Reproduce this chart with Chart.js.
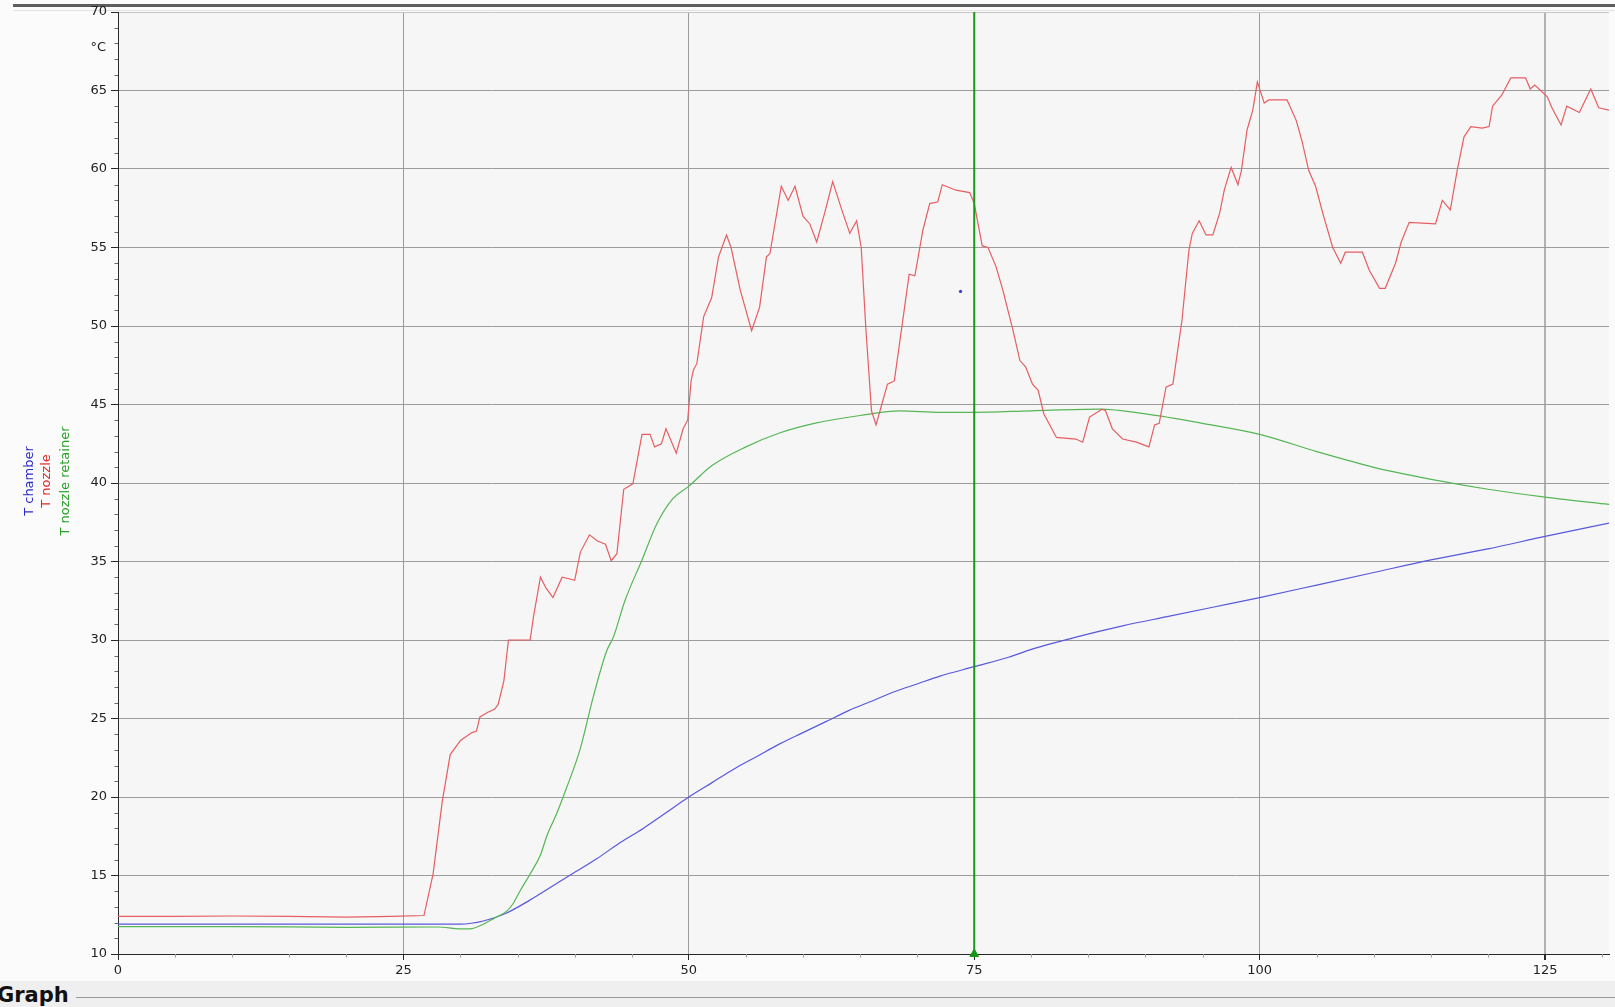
<!DOCTYPE html>
<html>
<head>
<meta charset="utf-8">
<title>Graph</title>
<script src="https://cdn.jsdelivr.net/npm/chart.js@4"></script>
<style>
  html, body { margin: 0; padding: 0; background: #fbfbfb; overflow: hidden; }
  #wrap { position: relative; width: 1615px; height: 1007px; }
  #topbar { position: absolute; left: 13px; top: 4px; width: 1602px; height: 3px; background: #5e5e5e; }
  #topline { position: absolute; left: 13px; top: 10px; width: 1602px; height: 1px; background: #e2e2e2; }
  #chartBox { position: absolute; left: 0; top: 0; width: 1615px; height: 985px; }
  .serieslabel { position: absolute; top: 481px; white-space: nowrap; font: 13px "DejaVu Sans", sans-serif;
                 transform: translate(-50%, -50%) rotate(-90deg); }
  #unit { position: absolute; top: 39px; right: calc(1615px - 106px); font: 13px "DejaVu Sans", sans-serif; color: #222; }
  #band { position: absolute; left: 0; top: 981px; width: 1615px; height: 26px; background: #efefef; }
  #bandline { position: absolute; left: 76px; top: 997px; width: 1539px; height: 1px; background: #9a9a9a; }
  #bandtitle { position: absolute; left: -3px; top: 983px; font: bold 21px "DejaVu Sans", sans-serif; color: #111; }
</style>
</head>
<body>
<div id="wrap">
  <div id="topbar"></div>
  <div id="topline"></div>
  <div id="chartBox"><canvas id="c" width="1615" height="985"></canvas></div>
  <div id="unit">°C</div>
  <div class="serieslabel" style="left:28px;color:#2b2bc8;">T chamber</div>
  <div class="serieslabel" style="left:45px;color:#e02626;">T nozzle</div>
  <div class="serieslabel" style="left:64px;color:#26a026;">T nozzle retainer</div>
  <div id="band"></div>
  <div id="bandline"></div>
  <div id="bandtitle">Graph</div>
</div>
<script>
// Time axis (x) and temperature readings (°C) for each sensor
const nozzleX = [0, 5, 10, 15, 20, 24, 26.8, 27.6, 28.4, 29.1, 30.0, 31.0, 31.4, 31.7, 32.4, 33.0, 33.3, 33.8, 34.2, 36.1,
  36.4, 37.0, 37.5, 38.1, 38.9, 39.5, 40.0, 40.5, 41.3, 42.0, 42.7, 43.2, 43.7, 44.3, 45.1, 45.9, 46.6, 47.0, 47.6, 48.0,
  48.9, 49.5, 49.9, 50.2, 50.4, 50.7, 51.3, 52.0, 52.6, 53.3, 53.7, 54.5, 55.5, 56.2, 56.8, 57.1, 58.1, 58.7, 59.3, 60.0,
  60.6, 61.2, 61.9, 62.6, 63.4, 64.1, 64.7, 65.1, 65.5, 66.0, 66.4, 66.9, 67.4, 68.0, 68.9, 69.3, 69.8, 70.5, 71.1, 71.8,
  72.2, 73.4, 74.6, 75.0, 75.7, 76.2, 76.9, 77.5, 78.4, 79.0, 79.5, 80.1, 80.6, 81.1, 82.2, 83.9, 84.5, 85.1, 86.2, 86.5,
  87.1, 88.0, 89.2, 90.3, 90.8, 91.2, 91.8, 92.4, 93.2, 93.8, 94.1, 94.7, 95.3, 95.9, 96.5, 96.9, 97.5, 98.1, 98.4, 98.9,
  99.4, 99.8, 100.4, 100.8, 102.4, 103.2, 103.7, 104.3, 104.9, 105.6, 106.4, 107.1, 107.5, 109.0, 109.6, 110.5, 111.0, 111.9, 112.4, 113.1,
  115.4, 116.0, 116.7, 117.3, 117.9, 118.5, 119.5, 120.1, 120.4, 121.2, 122.0, 123.3, 123.7, 124.1, 125.2, 125.6, 126.4, 126.9, 128.0, 129.0,
  129.7, 130.6, 131.0];
const nozzleT = [12.4, 12.4, 12.42, 12.4, 12.35, 12.4, 12.45, 15.1, 19.7, 22.7, 23.6, 24.1, 24.2, 25.1, 25.4, 25.6, 25.9, 27.4, 30.0, 30.0,
  31.5, 34.0, 33.3, 32.7, 34.0, 33.9, 33.8, 35.6, 36.7, 36.3, 36.1, 35.05, 35.5, 39.6, 39.95, 43.1, 43.1, 42.3, 42.5, 43.45,
  41.9, 43.45, 44.0, 46.5, 47.2, 47.6, 50.6, 51.8, 54.4, 55.8, 55.0, 52.3, 49.7, 51.2, 54.4, 54.6, 58.9, 58.0, 58.9, 57.0,
  56.5, 55.35, 57.2, 59.2, 57.4, 55.9, 56.7, 55.0, 49.9, 44.6, 43.7, 45.0, 46.3, 46.5, 51.2, 53.3, 53.2, 56.1, 57.8, 57.9,
  59.0, 58.65, 58.5, 57.8, 55.1, 55.0, 53.8, 52.3, 49.7, 47.8, 47.4, 46.3, 45.9, 44.4, 42.9, 42.8, 42.6, 44.2, 44.7, 44.6,
  43.45, 42.8, 42.6, 42.3, 43.7, 43.8, 46.1, 46.3, 50.4, 54.8, 55.9, 56.7, 55.8, 55.8, 57.2, 58.65, 60.1, 59.0, 59.9, 62.5,
  63.75, 65.55, 64.2, 64.4, 64.4, 63.1, 61.8, 59.9, 58.9, 57.0, 55.0, 54.0, 54.7, 54.7, 53.55, 52.4, 52.4, 54.0, 55.35, 56.6,
  56.5, 58.0, 57.4, 59.9, 62.05, 62.7, 62.6, 62.7, 64.0, 64.7, 65.8, 65.8, 65.1, 65.35, 64.6, 63.9, 62.8, 64.0, 63.6, 65.1,
  63.9, 63.75, 63.1];

const retainerX = [0, 10, 20, 28, 30, 31, 32, 33, 34, 34.6, 35.2, 36.1, 37.0, 37.6, 38.4, 39.3, 40.5, 41.6, 42.8, 43.4,
  44.4, 45.9, 47.2, 48.6, 50, 52, 55, 58, 61, 65, 68.5, 72, 75, 80, 86, 90, 95, 100, 105, 110,
  116, 120, 125, 131];
const retainerT = [11.75, 11.75, 11.7, 11.72, 11.6, 11.62, 11.9, 12.3, 12.7, 13.2, 14.0, 15.1, 16.3, 17.6, 18.9, 20.6, 23.1, 26.3, 29.3, 30.2,
  32.5, 35.1, 37.4, 39.0, 39.8, 41.1, 42.3, 43.2, 43.8, 44.3, 44.6, 44.5, 44.5, 44.6, 44.7, 44.4, 43.8, 43.1, 42.0, 41.0,
  40.1, 39.6, 39.1, 38.6];

const chamberX = [0, 30, 32, 34, 36, 38, 40, 42, 44, 46, 48, 50, 52, 54, 56, 58, 60, 62, 64, 66,
  68, 70, 72, 75, 78, 80, 84, 88, 92, 96, 100, 105, 110, 115, 120, 125, 131];
const chamberT = [11.9, 11.9, 12.1, 12.6, 13.4, 14.3, 15.2, 16.1, 17.1, 18.0, 19.0, 20.0, 20.9, 21.8, 22.6, 23.4, 24.1, 24.8, 25.5, 26.1,
  26.7, 27.2, 27.7, 28.3, 28.9, 29.4, 30.2, 30.9, 31.5, 32.1, 32.7, 33.5, 34.3, 35.1, 35.8, 36.6, 37.5];

// Cursor position and the single probe marker
const cursorX = [75, 75];
const cursorT = [10, 70];
const probeX = [73.8];
const probeT = [52.2];

// Axis ranges and tick spacing
const xRange = [0, 130.6];
const yRange = [10, 70];
const xMajorStep = 25, xMinorStep = 5;
const yMajorStep = 5, yMinorStep = 1;

const toPoints = (xs, ys) => xs.map((x, i) => ({ x: x, y: ys[i] }));

const plotBackground = {
  id: 'plotBackground',
  beforeDraw(chart) {
    const { ctx, chartArea: a } = chart;
    ctx.save();
    ctx.fillStyle = '#f6f6f6';
    ctx.fillRect(a.left, a.top, a.right - a.left, a.bottom - a.top);
    ctx.restore();
  }
};

const minorTicks = {
  id: 'minorTicks',
  afterDraw(chart) {
    const { ctx, chartArea: a, scales } = chart;
    ctx.save();
    ctx.lineWidth = 1;
    ctx.strokeStyle = '#6a6a6a';
    for (let v = yRange[0] + yMinorStep; v < yRange[1]; v += yMinorStep) {
      if (v % yMajorStep === 0) continue;
      const py = Math.round(scales.y.getPixelForValue(v)) + 0.5;
      ctx.beginPath(); ctx.moveTo(a.left - 3.5, py); ctx.lineTo(a.left, py); ctx.stroke();
    }
    ctx.strokeStyle = '#9a9a9a';
    for (let v = xRange[0] + xMinorStep; v < xRange[1]; v += xMinorStep) {
      if (v % xMajorStep === 0) continue;
      const px = Math.round(scales.x.getPixelForValue(v)) + 0.5;
      ctx.beginPath(); ctx.moveTo(px, a.bottom); ctx.lineTo(px, a.bottom + 3.5); ctx.stroke();
    }
    ctx.restore();
  }
};

const tickFont = { family: '"DejaVu Sans", sans-serif', size: 13 };

new Chart(document.getElementById('c'), {
  type: 'scatter',
  data: {
    datasets: [
      { label: 'cursor', data: toPoints(cursorX, cursorT), showLine: true, borderColor: '#169a16', borderWidth: 2,
        pointRadius: 0 },
      { label: 'cursor marker', data: toPoints([cursorX[0]], [yRange[0]]), pointStyle: 'triangle', pointRadius: 5,
        backgroundColor: '#169a16', borderColor: '#169a16', borderWidth: 1, clip: false },
      { label: 'probe', data: toPoints(probeX, probeT), pointRadius: 1.6, backgroundColor: '#3a3ad8', borderWidth: 0 },
      { label: 'T nozzle', data: toPoints(nozzleX, nozzleT), showLine: true, borderColor: '#e65e61', borderWidth: 1.2,
        pointRadius: 0, tension: 0 },
      { label: 'T nozzle retainer', data: toPoints(retainerX, retainerT), showLine: true, borderColor: '#55b655',
        borderWidth: 1.2, pointRadius: 0, cubicInterpolationMode: 'monotone' },
      { label: 'T chamber', data: toPoints(chamberX, chamberT), showLine: true, borderColor: '#5858dc',
        borderWidth: 1.2, pointRadius: 0, cubicInterpolationMode: 'monotone' }
    ]
  },
  options: {
    responsive: false,
    animation: false,
    events: [],
    layout: { padding: { top: 12, right: 0, left: 0, bottom: 0 } },
    plugins: { legend: { display: false }, tooltip: { enabled: false } },
    scales: {
      x: {
        type: 'linear',
        min: xRange[0], max: xRange[1],
        afterFit(scale) { scale.height = 31; },
        border: { display: true, color: '#2a2a2a', width: 1 },
        grid: {
          color: (c) => c.tick && c.tick.value === 125 ? '#b2b2b2' : '#9c9c9c',
          lineWidth: (c) => c.tick && c.tick.value === 125 ? 2 : 1,
          tickColor: '#2a2a2a',
          tickLength: 6
        },
        ticks: {
          stepSize: xMajorStep, includeBounds: false, padding: 3,
          color: '#222', font: tickFont
        }
      },
      y: {
        type: 'linear',
        min: yRange[0], max: yRange[1],
        afterFit(scale) { scale.width = 118; },
        border: { display: true, color: '#2a2a2a', width: 1 },
        grid: {
          color: (c) => c.tick && c.tick.value === 70 ? '#c6c6c6' : '#9c9c9c',
          tickColor: '#2a2a2a',
          tickLength: 7
        },
        ticks: {
          stepSize: yMajorStep, padding: 4,
          color: '#222', font: tickFont
        }
      }
    }
  },
  plugins: [plotBackground, minorTicks]
});
</script>
</body>
</html>
